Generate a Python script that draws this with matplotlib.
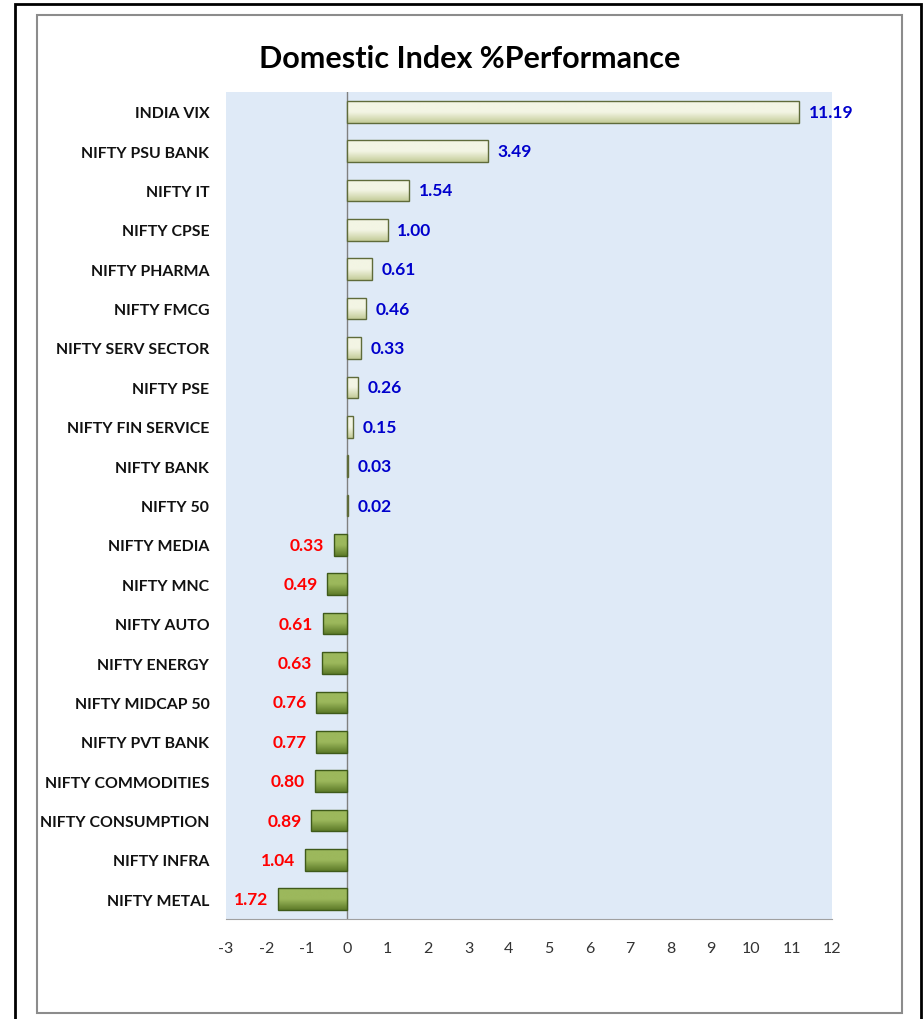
import matplotlib
matplotlib.use("Agg")
import matplotlib.pyplot as plt
from matplotlib.patches import Rectangle
import numpy as np

categories = ["INDIA VIX", "NIFTY PSU BANK", "NIFTY IT", "NIFTY CPSE", "NIFTY PHARMA",
              "NIFTY FMCG", "NIFTY SERV SECTOR", "NIFTY PSE", "NIFTY FIN SERVICE",
              "NIFTY BANK", "NIFTY 50", "NIFTY MEDIA", "NIFTY MNC", "NIFTY AUTO",
              "NIFTY ENERGY", "NIFTY MIDCAP 50", "NIFTY PVT BANK", "NIFTY COMMODITIES",
              "NIFTY CONSUMPTION", "NIFTY INFRA", "NIFTY METAL"]
values = [11.19, 3.49, 1.54, 1.00, 0.61, 0.46, 0.33, 0.26, 0.15, 0.03, 0.02,
          -0.33, -0.49, -0.61, -0.63, -0.76, -0.77, -0.80, -0.89, -1.04, -1.72]
xticks = [-3, -2, -1, 0, 1, 2, 3, 4, 5, 6, 7, 8, 9, 10, 11, 12]
title = "Domestic Index %Performance"

plt.rcParams['font.family'] = ['Lato', 'DejaVu Sans']

fig = plt.figure(figsize=(9.23, 10.2), dpi=100)
fig.patch.set_facecolor('white')

# outer borders
fig.add_artist(Rectangle((15/923, -0.01), 906/923, 1 - 5/1020 + 0.01, transform=fig.transFigure,
                         fill=False, edgecolor='black', linewidth=2))
fig.add_artist(Rectangle((37/923, 1 - 1014/1020), (902-37)/923, (1014-16)/1020, transform=fig.transFigure,
                         fill=False, edgecolor='#8c8c8c', linewidth=1.5))

ax = fig.add_axes([226/923, 1 - 920/1020, (832-226)/923, (920-93)/1020])
ax.set_facecolor('#dfeaf7')

n = len(categories)
y = np.arange(n)
bh = 0.55
grad = np.linspace(0, 1, 64).reshape(-1, 1)
for yi, v in zip(y, values):
    if v >= 0:
        top, bot, ec, tc = '#f3f5e4', '#c4cc98', '#5f6b3a', '#0000cc'
    else:
        top, bot, ec, tc = '#9cb85c', '#5d7a28', '#3f5a1a', '#ff0000'
    bars = ax.barh(yi, v, height=bh, color='none', edgecolor=ec, linewidth=1.0, zorder=4)
    patch = bars.patches[0]
    x0, x1 = sorted([patch.get_x(), patch.get_x() + patch.get_width()])
    y0, y1 = patch.get_y(), patch.get_y() + patch.get_height()
    cmap = matplotlib.colors.LinearSegmentedColormap.from_list('g', [top, top, bot])
    im = ax.imshow(grad, extent=(x0, x1, y1, y0), aspect='auto', cmap=cmap,
                   origin='upper', zorder=3, interpolation='bilinear')
    im.set_clip_path(patch)
    lab = f"{abs(v):.2f}"
    if v >= 0:
        ax.text(v + 0.24, yi, lab, ha='left', va='center', color=tc,
                fontsize=12.5, fontweight='bold', zorder=5)
    else:
        ax.text(v - 0.24, yi, lab, ha='right', va='center', color=tc,
                fontsize=12.5, fontweight='bold', zorder=5)

ax.axvline(0, color='#808080', linewidth=1, zorder=2)
ax.set_xlim(-3, 12)
ax.set_ylim(n - 0.5, -0.5)
ax.set_xticks(xticks)
ax.set_xticklabels([str(t) for t in xticks], fontsize=11.5, color='#333333')
ax.set_yticks(y)
ax.set_yticklabels(categories, fontsize=11.4, fontweight='bold', color='#111111')
ax.tick_params(axis='both', length=0)
ax.tick_params(axis='y', pad=12)
ax.tick_params(axis='x', pad=16)
for s in ['top', 'right', 'left']:
    ax.spines[s].set_visible(False)
ax.spines['bottom'].set_color('#a0a0a0')

fig.text(470/923, 1 - 59/1020, title, ha='center', va='center', fontsize=22,
         fontweight='bold', color='black')

fig.savefig('out.png', dpi=100)
